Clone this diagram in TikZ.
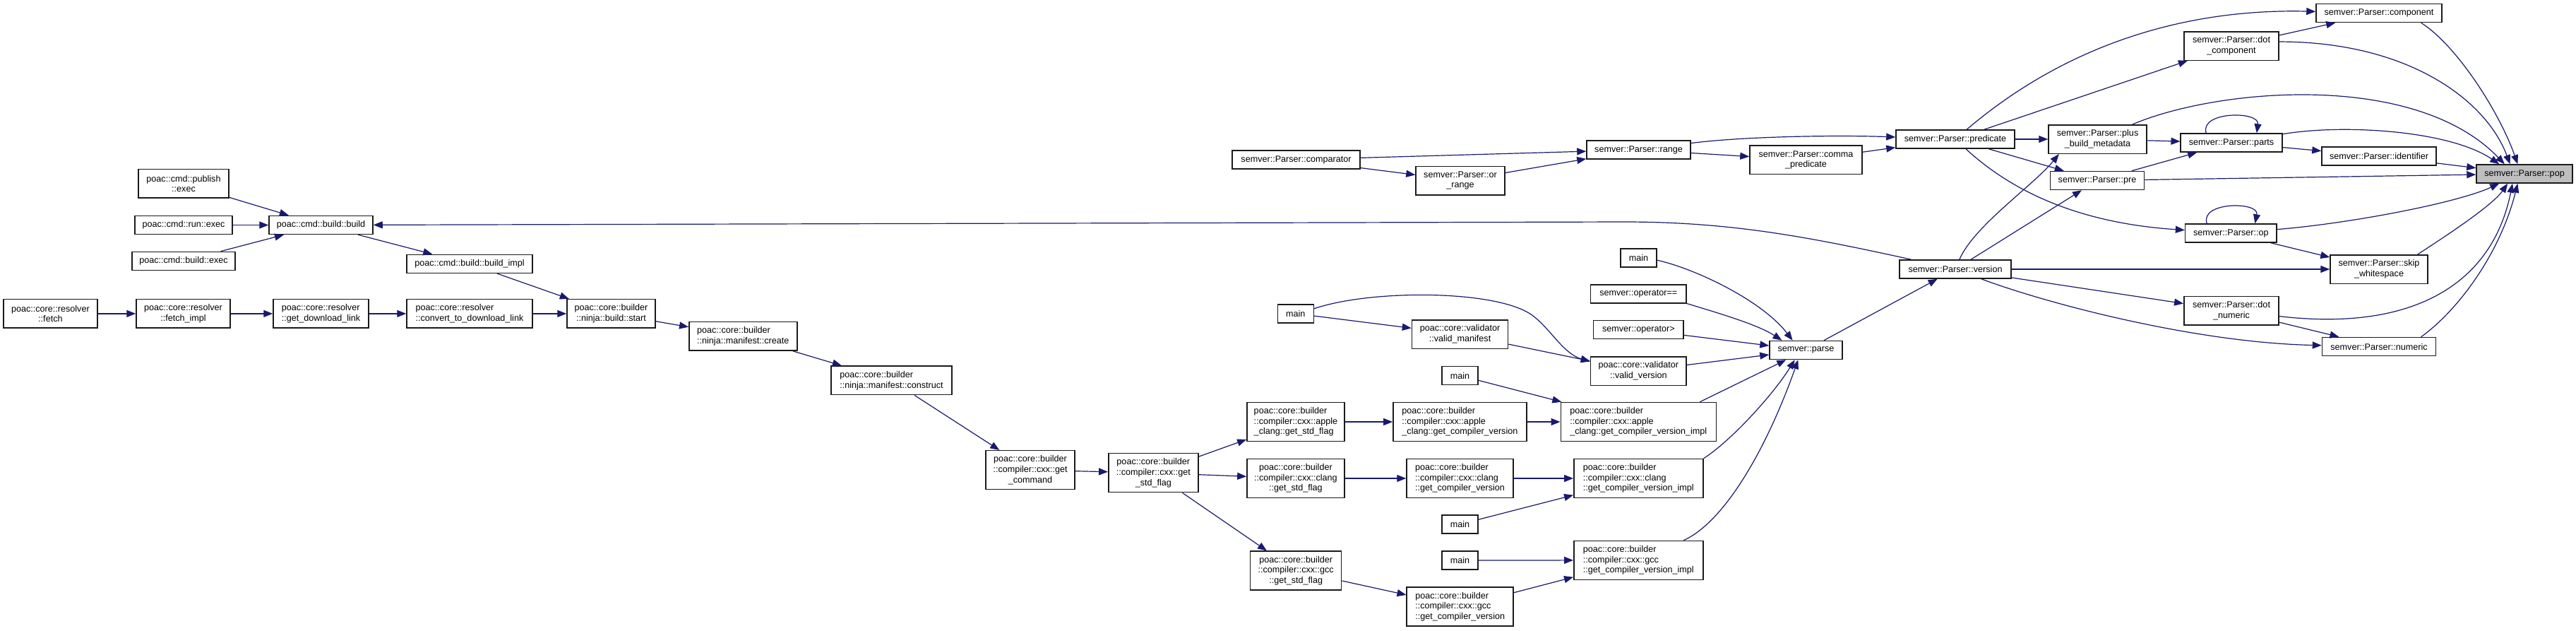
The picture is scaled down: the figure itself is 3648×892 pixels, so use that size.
\documentclass[tikz,border=0pt]{standalone}
\usepackage{fontspec}
\setmainfont{Liberation Sans}
\usepackage{xcolor}
\usetikzlibrary{arrows.meta}
\definecolor{callblue}{HTML}{191970}
\definecolor{boxline}{HTML}{1A1A1A}
\definecolor{boxsel}{HTML}{BFBFBF}

\begin{document}
\begin{tikzpicture}[
    x=1pt, y=-1pt,
    >={Triangle[length=13pt, width=10pt]},
    fnode/.style={draw=boxline, line width=1.5pt, fill=white, inner sep=0pt, minimum width=#1, minimum height=26pt, align=center, font=\fontsize{12.6}{14.7}\selectfont},
    lines2/.style={minimum height=40.5pt},
    lines3/.style={minimum height=55pt},
    call/.style={draw=callblue, line width=1.2pt, ->},
]
    \path[use as bounding box, fill=white] (0, 0) rectangle (3648, 892);

    % poac side
    \node[fnode=133, lines2] (fetch) at (71.4, 443.9) {poac::core::resolver\\::fetch};
    \node[fnode=133, lines2] (fetchimpl) at (259.5, 443.9) {poac::core::resolver\\::fetch\_impl};
    \node[fnode=135, lines2, align=left] (getdl) at (454.5, 443.9) {poac::core::resolver\\::get\_download\_link};
    \node[fnode=178, lines2, align=left] (convert) at (665, 443.9) {poac::core::resolver\\::convert\_to\_download\_link};
    \node[fnode=125, lines2] (start) at (865.5, 443.9) {poac::core::builder\\::ninja::build::start};
    \node[fnode=128, lines2] (publish) at (260, 259.9) {poac::cmd::publish\\::exec};
    \node[fnode=138] (runexec) at (260, 318.5) {poac::cmd::run::exec};
    \node[fnode=146] (buildexec) at (260, 369.4) {poac::cmd::build::exec};
    \node[fnode=147] (build) at (454.5, 318.5) {poac::cmd::build::build};
    \node[fnode=178] (buildimpl) at (665, 373.4) {poac::cmd::build::build\_impl};
    \node[fnode=153, lines2, align=left] (create) at (1052.3, 475.9) {poac::core::builder\\::ninja::manifest::create};
    \node[fnode=171, lines2, align=left] (construct) at (1262.5, 538.4) {poac::core::builder\\::ninja::manifest::construct};
    \node[fnode=126, lines3] (getcmd) at (1459, 665.2) {poac::core::builder\\::compiler::cxx::get\\\_command};
    \node[fnode=127, lines3] (getstd) at (1633.3, 669.2) {poac::core::builder\\::compiler::cxx::get\\\_std\_flag};
    \node[fnode=138, lines3, align=left] (applestd) at (1834.9, 597) {poac::core::builder\\::compiler::cxx::apple\\\_clang::get\_std\_flag};
    \node[fnode=138, lines3] (clangstd) at (1834.9, 677) {poac::core::builder\\::compiler::cxx::clang\\::get\_std\_flag};
    \node[fnode=129, lines3] (gccstd) at (1835.2, 807.7) {poac::core::builder\\::compiler::cxx::gcc\\::get\_std\_flag};
    \node[fnode=189, lines3, align=left] (applegcv) at (2067.4, 597) {poac::core::builder\\::compiler::cxx::apple\\\_clang::get\_compiler\_version};
    \node[fnode=151, lines3, align=left] (clanggcv) at (2067.5, 677) {poac::core::builder\\::compiler::cxx::clang\\::get\_compiler\_version};
    \node[fnode=151, lines3, align=left] (gccgcv) at (2067.7, 858.5) {poac::core::builder\\::compiler::cxx::gcc\\::get\_compiler\_version};
    \node[fnode=220, lines3, align=left] (appleimpl) at (2320.3, 597) {poac::core::builder\\::compiler::cxx::apple\\\_clang::get\_compiler\_version\_impl};
    \node[fnode=183, lines3, align=left] (clangimpl) at (2320.3, 677) {poac::core::builder\\::compiler::cxx::clang\\::get\_compiler\_version\_impl};
    \node[fnode=183, lines3, align=left] (gccimpl) at (2320.3, 792.8) {poac::core::builder\\::compiler::cxx::gcc\\::get\_compiler\_version\_impl};
    \node[fnode=51] (mainA) at (2067.5, 531.5) {main};
    \node[fnode=51] (mainB) at (2067.5, 742) {main};
    \node[fnode=51] (mainC) at (2067.5, 793) {main};
    \node[fnode=51] (mainD) at (1834.8, 443.8) {main};
    \node[fnode=51] (mainE) at (2320.5, 365) {main};
    \node[fnode=136, lines2] (validman) at (2067.5, 473) {poac::core::validator\\::valid\_manifest};
    \node[fnode=135.5, lines2] (validver) at (2320.3, 525) {poac::core::validator\\::valid\_version};

    % semver side
    \node[fnode=135.5] (opeq) at (2320.3, 415.8) {semver::operator==};
    \node[fnode=127.5] (opgt) at (2320.3, 466.5) {semver::operator>};
    \node[fnode=103] (parse) at (2557.5, 495.5) {semver::parse};
    \node[fnode=158] (version) at (2769, 381) {semver::Parser::version};
    \node[fnode=181] (comparator) at (1835.5, 226) {semver::Parser::comparator};
    \node[fnode=126, lines2] (orrange) at (2068, 255.5) {semver::Parser::or\\\_range};
    \node[fnode=147] (range) at (2320.5, 212) {semver::Parser::range};
    \node[fnode=159, lines2] (comma) at (2557.5, 226.4) {semver::Parser::comma\\\_predicate};
    \node[fnode=168] (predicate) at (2769, 197) {semver::Parser::predicate};
    \node[fnode=139, lines2] (plusbm) at (2970.5, 197) {semver::Parser::plus\\\_build\_metadata};
    \node[fnode=133] (pre) at (2970, 255.5) {semver::Parser::pre};
    \node[fnode=143.6] (parts) at (3160, 202) {semver::Parser::parts};
    \node[fnode=129.4] (op) at (3159.3, 330) {semver::Parser::op};
    \node[fnode=134.4, lines2] (dotcomp) at (3160, 65) {semver::Parser::dot\\\_component};
    \node[fnode=134.4, lines2] (dotnum) at (3160, 439.7) {semver::Parser::dot\\\_numeric};
    \node[fnode=178] (component) at (3369, 18.5) {semver::Parser::component};
    \node[fnode=162] (identifier) at (3369, 221) {semver::Parser::identifier};
    \node[fnode=138, lines2] (skipws) at (3369, 381) {semver::Parser::skip\\\_whitespace};
    \node[fnode=161] (numeric) at (3369, 490.5) {semver::Parser::numeric};
    \node[fnode=136, fill=boxsel] (pop) at (3575, 246) {semver::Parser::pop};

    % calls, poac side
    \draw[call] (publish) -- (build);
    \draw[call] (runexec) -- (build);
    \draw[call] (buildexec) -- (build);
    \draw[call] (build) -- (buildimpl);
    \draw[call] (buildimpl) -- (start);
    \draw[call] (fetch) -- (fetchimpl);
    \draw[call] (fetchimpl) -- (getdl);
    \draw[call] (getdl) -- (convert);
    \draw[call] (convert) -- (start);
    \draw[call] (start) -- (create);
    \draw[call] (create) -- (construct);
    \draw[call] (construct) -- (getcmd);
    \draw[call] (getcmd) -- (getstd);
    \draw[call] (getstd) -- (applestd);
    \draw[call] (getstd) -- (clangstd);
    \draw[call] (getstd) -- (gccstd);
    \draw[call] (applestd) -- (applegcv);
    \draw[call] (clangstd) -- (clanggcv);
    \draw[call] (gccstd) -- (gccgcv);
    \draw[call] (applegcv) -- (appleimpl);
    \draw[call] (clanggcv) -- (clangimpl);
    \draw[call] (gccgcv) -- (gccimpl);
    \draw[call] (mainA) -- (appleimpl);
    \draw[call] (mainB) -- (clangimpl);
    \draw[call] (mainC) -- (gccimpl);
    \draw[call] (mainD) -- (validman);
    \draw[call] (mainD.15) .. controls (1940, 410) and (2110, 410) .. (2165, 443) .. controls (2192, 459) and (2212, 500) .. (validver.169);
    \draw[call] (validman) -- (validver);
    \draw[call] (validver) -- (parse);
    \draw[call] (opgt) -- (parse);
    \draw[call] (opeq.south east) .. controls (2440, 445) and (2490, 460) .. (parse.158);
    \draw[call] (mainE.-7) .. controls (2400, 380) and (2495, 425) .. (parse.144);
    \draw[call] (appleimpl.18) -- (parse);
    \draw[call] (clangimpl.north east) .. controls (2450, 625) and (2510, 560) .. (parse.-139);
    \draw[call] (gccimpl) .. controls (2440, 740) and (2500, 640) .. (parse.-129);
    \draw[call] (parse) -- (version);

    % calls, semver side
    \draw[call] (comparator) -- (range);
    \draw[call] (comparator) -- (orrange);
    \draw[call] (orrange) -- (range);
    \draw[call] (range) -- (comma);
    \draw[call] (range) .. controls (2470, 193) and (2600, 191) .. (predicate);
    \draw[call] (comma) -- (predicate);
    \draw[call] (predicate) .. controls (2930, 60) and (3100, 12) .. (component);
    \draw[call] (predicate) -- (dotcomp);
    \draw[call] (predicate) -- (plusbm);
    \draw[call] (predicate) -- (pre);
    \draw[call] (predicate) .. controls (2870, 290) and (2980, 318) .. (op);
    \draw[call] (version) .. controls (2560, 335) and (2450, 314) .. (2300, 314) -- (build);
    \draw[call] (version) .. controls (2795, 320) and (2880, 262) .. (plusbm.-159);
    \draw[call] (version) -- (pre);
    \draw[call] (version) -- (skipws);
    \draw[call] (version) -- (dotnum);
    \draw[call] (version) .. controls (2900, 430) and (3110, 485) .. (numeric);
    \draw[call] (dotnum) -- (numeric);
    \draw[call] (plusbm) -- (parts);
    \draw[call] (pre) -- (parts);
    \draw[call] (parts) -- (identifier);
    \draw[call] (op) -- (skipws);
    \draw[call] (dotcomp) -- (component);
    \draw[call] (parts.159) .. controls (3115, 157) and (3200, 157) .. (parts.21);
    \draw[call] (op.158) .. controls (3115, 285) and (3200, 285) .. (op.22);

    % into pop
    \draw[call] (identifier) -- (pop);
    \draw[call] (pre) -- (pop);
    \draw[call] (component.-13) .. controls (3480, 65) and (3540, 160) .. (pop.125);
    \draw[call] (dotcomp.5) .. controls (3408, 59) and (3520, 140) .. (pop.146);
    \draw[call] (plusbm) .. controls (3140, 125) and (3420, 100) .. (pop.154);
    \draw[call] (parts) .. controls (3320, 175) and (3470, 185) .. (pop.159);
    \draw[call] (op) .. controls (3330, 316) and (3480, 287) .. (pop.-159);
    \draw[call] (skipws.21) .. controls (3470, 330) and (3530, 290) .. (pop.-150);
    \draw[call] (dotnum) .. controls (3420, 470) and (3530, 400) .. (pop.-141);
    \draw[call] (numeric.13) .. controls (3480, 440) and (3540, 360) .. (pop.-125);
\end{tikzpicture}
\end{document}
